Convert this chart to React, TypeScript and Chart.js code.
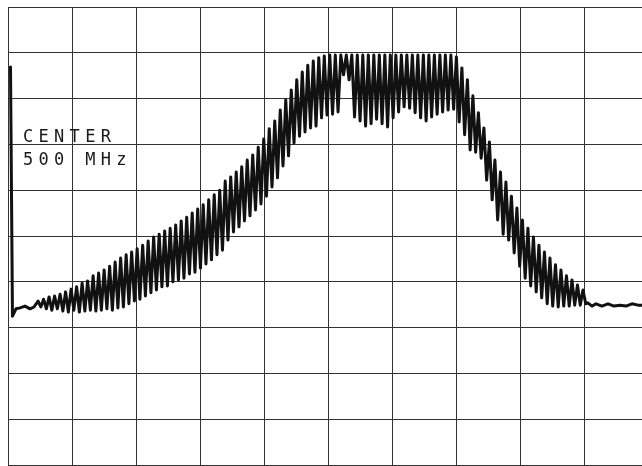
import React, { useEffect, useRef } from "react";
import { Chart, registerables } from "chart.js";

Chart.register(...registerables);

// Frequency axis: 0 .. 1000 MHz (center 500 MHz, 100 MHz/div); level axis: 0 .. -100 dB (10 dB/div)
const xTickMHz = [0, 100, 200, 300, 400, 500, 600, 700, 800, 900, 1000];
const yTickDb = [0, -10, -20, -30, -40, -50, -60, -70, -80, -90, -100];

const centerLabel = ["CENTER", "500 MHz"];

// LO feedthrough spike and noise floor at the low end
const leadFreqMHz = [3.9, 7.0, 12.5, 18.8, 26.6, 34.4, 40.6];
const leadDb = [-13.1, -67.5, -65.9, -65.7, -65.3, -65.9, -65.5];

// comb lines
const combFreqMHz = [
  47, 55.6, 64.2, 72.8, 81.4, 90, 98.6, 107.2, 115.8, 124.4,
  133, 141.6, 150.2, 158.8, 167.4, 176, 184.6, 193.2, 201.8, 210.4,
  219, 227.6, 236.2, 244.8, 253.4, 262, 270.6, 279.2, 287.8, 296.4,
  305, 313.6, 322.2, 330.8, 339.4, 348, 356.6, 365.2, 373.8, 382.4,
  391, 399.6, 408.2, 416.8, 425.4, 434, 442.6, 451.2, 459.8, 468.4,
  477, 485.6, 494.2, 502.8, 511.4, 520, 528.6, 537.2, 545.8, 554.4,
  563, 571.6, 580.2, 588.8, 597.4, 606, 614.6, 623.2, 631.8, 640.4,
  649, 657.6, 666.2, 674.8, 683.4, 692, 700.6, 709.2, 717.8, 726.4,
  735, 743.6, 752.2, 760.8, 769.4, 778, 786.6, 795.2, 803.8, 812.4,
  821, 829.6, 838.2, 846.8, 855.4, 864, 872.6, 881.2, 889.8, 898.4,
];
const peakDb = [
  -64.2, -63.8, -63.3, -63.1, -62.7, -62.2, -61.6, -61.1, -60.3, -59.8,
  -58.7, -58.1, -57.4, -56.6, -55.7, -54.8, -54.1, -53.5, -52.8, -52.0,
  -51.1, -50.2, -49.6, -48.9, -48.3, -47.6, -46.7, -45.9, -45.0, -44.1,
  -43.2, -42.1, -41.0, -40.0, -38.0, -37.1, -36.0, -34.9, -33.4, -32.3,
  -30.6, -28.8, -26.6, -24.9, -22.5, -20.3, -18.1, -15.9, -14.2, -12.7,
  -11.8, -11.1, -10.7, -10.5, -10.5, -10.5, -10.5, -10.5, -10.5, -10.5,
  -10.5, -10.5, -10.5, -10.5, -10.5, -10.5, -10.5, -10.5, -10.5, -10.5,
  -10.5, -10.5, -10.5, -10.5, -10.5, -10.5, -10.9, -13.3, -15.9, -19.4,
  -23.1, -26.4, -29.5, -33.4, -36.0, -38.2, -41.3, -43.9, -46.5, -48.3,
  -50.2, -52.0, -53.5, -54.8, -56.3, -57.4, -58.7, -59.6, -60.7, -61.8,
];
const troughDb = [
  -65.5, -65.9, -66.2, -65.9, -66.4, -66.6, -66.2, -66.6, -66.4, -66.2,
  -66.4, -66.2, -65.9, -66.2, -65.7, -65.5, -64.8, -64.2, -63.8, -63.1,
  -62.4, -61.8, -61.1, -60.9, -60.0, -59.6, -59.2, -58.3, -57.9, -57.0,
  -56.1, -55.2, -54.1, -53.1, -50.9, -49.1, -48.0, -46.7, -45.6, -44.3,
  -43.0, -41.3, -39.3, -37.3, -34.7, -32.5, -29.7, -28.2, -27.3, -26.4,
  -26.0, -24.2, -23.6, -23.4, -22.9, -14.8, -15.9, -24.0, -24.9, -26.0,
  -25.5, -24.5, -25.5, -26.2, -24.2, -22.9, -21.8, -22.1, -23.1, -24.2,
  -24.9, -24.0, -23.4, -22.9, -22.5, -22.3, -25.1, -27.9, -31.2, -31.7,
  -33.0, -37.8, -42.1, -46.5, -49.6, -50.9, -53.7, -56.6, -59.2, -60.9,
  -62.2, -63.5, -64.8, -65.3, -65.5, -65.3, -65.3, -65.1, -65.1, -64.8,
];

// noise floor at the high end
const tailFreqMHz = [906, 912.5, 918.8, 928, 937.5, 946.9, 956, 965.6, 975, 984.4, 995, 1000];
const tailDb = [-64.6, -65.3, -64.8, -65.3, -64.8, -65.3, -65.1, -65.3, -64.8, -65.1, -65.1, -65.1];

function buildTrace() {
  const pts: { x: number; y: number }[] = [];
  leadFreqMHz.forEach((f, i) => pts.push({ x: f, y: leadDb[i] }));
  combFreqMHz.forEach((f, k) => {
    pts.push({ x: f, y: peakDb[k] });
    const next = k + 1 < combFreqMHz.length ? combFreqMHz[k + 1] : f + (f - combFreqMHz[k - 1]);
    pts.push({ x: (f + next) / 2, y: troughDb[k] });
  });
  tailFreqMHz.forEach((f, i) => pts.push({ x: f, y: tailDb[i] }));
  return pts;
}

const labelPlugin = {
  id: "centerLabel",
  afterDraw(chart: any) {
    const { ctx, chartArea } = chart;
    ctx.save();
    ctx.fillStyle = "#1a1a1a";
    ctx.font = '17px "DejaVu Sans Mono"';
    (ctx as any).letterSpacing = "5.3px";
    ctx.textBaseline = "alphabetic";
    ctx.fillText(centerLabel[0], chartArea.left + 15, chartArea.top + 135);
    ctx.fillText(centerLabel[1], chartArea.left + 15, chartArea.top + 157.5);
    ctx.restore();
  },
};

export default function App() {
  const ref = useRef<HTMLCanvasElement | null>(null);
  useEffect(() => {
    if (!ref.current) return;
    const gridColor = "#333";
    const chart = new Chart(ref.current, {
      type: "line",
      data: {
        datasets: [
          {
            data: buildTrace(),
            borderColor: "#111",
            borderWidth: 3,
            borderJoinStyle: "round",
            borderCapStyle: "round",
            pointRadius: 0,
            tension: 0,
            fill: false,
          },
        ],
      },
      options: {
        responsive: false,
        animation: false,
        events: [],
        layout: { padding: { left: 1, top: 1, right: 1, bottom: 2 } },
        plugins: { legend: { display: false }, tooltip: { enabled: false }, title: { display: false } },
        scales: {
          x: {
            type: "linear",
            min: xTickMHz[0],
            max: xTickMHz[xTickMHz.length - 1],
            afterBuildTicks: (s: any) => {
              s.ticks = xTickMHz.map((v) => ({ value: v }));
            },
            ticks: { display: false },
            grid: { color: gridColor, lineWidth: 1, drawTicks: false },
            border: { display: false },
          },
          y: {
            type: "linear",
            min: yTickDb[yTickDb.length - 1],
            max: yTickDb[0],
            afterBuildTicks: (s: any) => {
              s.ticks = yTickDb.map((v) => ({ value: v }));
            },
            ticks: { display: false },
            grid: { color: gridColor, lineWidth: 1, drawTicks: false },
            border: { display: false },
          },
        },
      },
      plugins: [labelPlugin],
    });
    return () => chart.destroy();
  }, []);
  return (
    <div style={{ position: "fixed", left: 0, top: 0, width: 642, height: 466, overflow: "hidden", background: "#fff" }}>
      <canvas ref={ref} width={642} height={461} style={{ position: "absolute", left: 7, top: 6 }} />
    </div>
  );
}
